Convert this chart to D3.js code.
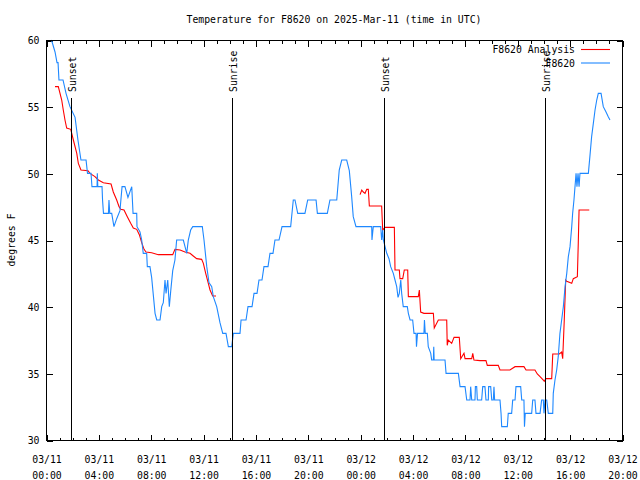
<!DOCTYPE html>
<html><head><meta charset="utf-8">
<script src="https://cdn.jsdelivr.net/npm/d3@7"></script>
<style>
body{margin:0;background:#fff;}
text{font-family:"DejaVu Sans Mono","Liberation Mono",monospace;font-size:9.8px;fill:#000;}
</style></head><body>
<svg id="chart" width="640" height="480"></svg>
<script>
const titleText = "Temperature for F8620 on 2025-Mar-11 (time in UTC)";
const yLabel = "degrees F";
const seriesNames = ["F8620 Analysis", "F8620"];
const seriesColors = ["#ff0000", "#1e88ff"];
const yTicks = [30, 35, 40, 45, 50, 55, 60];
const xStart = Date.UTC(2025, 2, 11, 0);
const xEnd = Date.UTC(2025, 2, 12, 20);
const sunLabels = ["Sunset", "Sunrise", "Sunset", "Sunrise"];
const sunHours = [1.91, 14.23, 25.84, 38.14];

// observations (hours since 03/11 00:00 UTC, deg F)
const obsHours = [0.42,0.69,0.84,0.92,0.99,1.30,1.53,1.83,2.22,2.44,2.67,3.06,3.17,3.44,3.51,3.90,3.92,3.96,4.28,4.32,4.39,4.77,4.81,4.87,5.02,5.19,5.40,5.65,5.81,6.03,6.26,6.55,6.65,6.93,6.95,7.18,7.31,7.43,7.69,7.74,7.94,8.07,8.33,8.46,8.71,8.84,8.96,9.09,9.17,9.30,9.42,9.53,9.68,9.85,9.98,10.49,10.62,10.75,10.87,11.05,11.21,11.94,12.07,12.28,12.45,12.66,12.78,13.04,13.29,13.50,13.75,13.93,14.19,14.31,14.82,14.90,15.28,15.43,15.74,15.89,16.12,16.27,16.50,16.65,16.96,17.11,17.34,17.49,17.80,18.03,18.69,18.89,19.02,19.23,19.78,19.99,20.63,20.73,21.49,21.69,22.21,22.40,22.59,22.97,23.17,23.35,23.47,23.68,24.88,24.90,25.00,25.57,25.64,25.72,25.77,25.90,26.03,26.20,26.33,26.53,26.66,26.79,26.89,26.99,27.10,27.17,27.29,27.60,27.68,27.81,28.01,28.11,28.27,28.30,28.38,28.87,28.91,28.97,29.13,29.20,29.39,29.46,29.59,29.62,29.65,30.48,30.56,31.50,31.63,32.01,32.14,32.39,32.44,32.52,32.77,32.80,32.90,32.95,33.28,33.36,33.53,33.61,33.79,33.81,33.97,34.05,34.17,34.22,34.27,34.68,34.76,34.81,35.24,35.31,35.57,35.65,35.83,35.90,36.26,36.34,36.51,36.55,36.61,37.10,37.18,37.35,37.43,37.74,37.86,37.99,38.04,38.12,38.25,38.37,38.71,38.75,38.88,39.01,39.13,39.26,39.39,39.52,39.65,39.78,39.90,40.03,40.16,40.23,40.33,40.49,40.56,40.64,40.72,40.79,41.43,41.56,41.68,41.81,41.94,42.07,42.19,42.40,42.57,42.78,42.95,43.08];
const obsTemps = [60,59.1,58.3,58.3,57,57,56,55,54.2,52.5,51,51,50,50,49,49,50,49,49,48,47,47,48,47,47,46,46.6,47.2,49,49,48.2,49,47,47,46,45.6,45,44,44,43,43,42.2,39.5,39,39,40,40.3,42,41,42,40,41.2,42.7,43.5,45,45,44.5,44,45,45.75,46,46,45,43,41.8,41.5,40.75,40,38.8,38,38,37,37,38,38,39,39,40,40,41,41,42,42,43,43,44,44,45,45,46,46,48,48,47,47,48,48,47,47,48,48,50.25,51,51,50.2,48.25,46.75,46,46,45,46,46,45,45.75,45,44.5,44,43.6,43,42.5,42,41.5,40.7,41,42,41,40,40,39.5,39,39,38,38,37,38,38,39,38,38,37,36.5,36,36,37,36,36,35,35,34,34,33,33,34,33,33,34,34,33,33,34,34,33,33,34,34,33,33,34,33,33,32,31,31,32,32,33,33,34,34,33,33,31,32,32,33,33,32,32,33,33,32,33,33,32,32,33.5,34.5,35.25,36.25,38,39,40,41.5,42.5,43.75,44.5,46,47,48,50,49,50,49,50,50,51.4,52.75,53.75,54.75,55.5,56,56,55,54.6,54.25,54];

// analysis (null = gap)
const anaHours = [0.69,0.94,1.20,1.32,1.45,1.58,1.89,2.09,2.35,2.47,2.67,3.21,3.36,3.74,4.00,4.38,4.97,5.14,5.40,5.58,5.71,5.96,6.21,6.47,6.67,6.93,7.13,7.31,7.49,7.64,8.07,8.58,9.68,9.85,10.24,10.62,11.00,11.25,11.51,11.89,12.02,12.20,12.40,12.53,12.73,12.99,18.0,23.99,24.12,24.24,24.37,24.50,24.62,24.70,25.64,25.72,25.90,26.61,26.66,26.99,27.04,27.25,27.37,27.63,27.68,28.44,28.52,28.62,28.87,29.59,29.66,29.97,30.61,30.65,30.73,30.99,31.17,31.57,31.68,31.93,32.01,32.52,32.60,32.69,33.15,33.61,33.71,34.55,34.68,35.44,35.83,36.51,36.67,37.35,37.53,37.74,37.99,38.06,38.19,38.63,38.71,39.21,39.39,39.47,39.59,39.70,39.78,40.16,40.28,40.59,40.66,40.72,41.50];
const anaTemps = [56.5,56.5,55.5,54.75,54,53.4,53.3,52.5,51.5,50.75,50.25,50.2,50,49.75,49.5,49.3,49.2,48.6,48,47.5,47.3,47.25,46.75,46.25,45.9,45.8,45.4,44.8,44.3,44.1,44.05,43.9,43.9,44.3,44.25,44.1,44,43.8,43.6,43.55,43.25,42.5,41.75,41.25,40.8,40.8,null,48.4,48.75,48.6,48.5,48.8,48.8,47.55,47.55,45.75,45.95,45.95,42.75,42.75,42.1,42.1,42.75,42.75,40.75,40.75,41.25,39.6,39.5,39.5,38.4,39,39,37.1,37.5,37.25,37.7,37.7,36.1,36.5,36.1,36.1,36.5,36,35.95,35.95,35.6,35.6,35.25,35.25,35.5,35.5,35.25,35.25,34.95,34.75,34.5,34.4,34.6,34.6,36.45,36.45,36.6,36.1,39,42,41.9,41.75,42.1,42.25,44.75,47.25,47.25];

const toDate = h => new Date(xStart + h * 3600e3);
const L = 46, R = 622, T = 40, B = 440;
const svg = d3.select("#chart");
const x = d3.scaleUtc().domain([new Date(xStart), new Date(xEnd)]).range([L, R]);
const y = d3.scaleLinear().domain([30, 60]).range([B, T]);

// title
svg.append("text").attr("x", (L + R) / 2).attr("y", 23).attr("text-anchor", "middle").text(titleText);
// y label
svg.append("text").attr("transform", "translate(15,240) rotate(-90)").attr("text-anchor", "middle").text(yLabel);

const crisp = g => g.attr("shape-rendering", "crispEdges");
const fmtD = d3.utcFormat("%m/%d"), fmtT = d3.utcFormat("%H:%M");

// minor x ticks bottom/top
svg.append("g").attr("transform", `translate(0.5,${B + 0.5})`)
  .call(d3.axisBottom(x).ticks(d3.utcHour.every(1)).tickSize(-3).tickFormat(""))
  .call(g => g.select(".domain").remove()).call(crisp);
svg.append("g").attr("transform", `translate(0.5,${T + 0.5})`)
  .call(d3.axisTop(x).ticks(d3.utcHour.every(1)).tickSize(-3).tickFormat(""))
  .call(g => g.select(".domain").remove()).call(crisp);
// major x ticks bottom with labels
const xb = svg.append("g").attr("transform", `translate(0.5,${B + 0.5})`)
  .call(d3.axisBottom(x).ticks(d3.utcHour.every(4)).tickSize(-6))
  .call(g => g.select(".domain").remove()).call(crisp);
xb.selectAll(".tick text").each(function(d) {
  const t = d3.select(this);
  t.text(null).attr("dy", null).attr("y", null).attr("font-family", null).attr("font-size", null);
  t.append("tspan").attr("x", 0).attr("y", 22).text(fmtD(d));
  t.append("tspan").attr("x", 0).attr("y", 38).text(fmtT(d));
});
svg.append("g").attr("transform", `translate(0.5,${T + 0.5})`)
  .call(d3.axisTop(x).ticks(d3.utcHour.every(4)).tickSize(-6).tickFormat(""))
  .call(g => g.select(".domain").remove()).call(crisp);
// y axes
const yl = svg.append("g").attr("transform", `translate(${L + 0.5},0.5)`)
  .call(d3.axisLeft(y).tickValues(yTicks).tickSize(-6).tickPadding(7).tickFormat(d3.format("d")))
  .call(g => g.select(".domain").remove()).call(crisp);
yl.selectAll(".tick text").attr("font-family", null).attr("font-size", null).attr("dy", "0.35em");
svg.append("g").attr("transform", `translate(${R + 0.5},0.5)`)
  .call(d3.axisRight(y).tickValues(yTicks).tickSize(-6).tickFormat(""))
  .call(g => g.select(".domain").remove()).call(crisp);
svg.selectAll(".tick line").attr("stroke", "#000");

// series
const line = d3.line().defined(d => d[1] != null).x(d => x(toDate(d[0]))).y(d => y(d[1]));
const ana = anaHours.map((h, i) => [h, anaTemps[i]]);
const obs = obsHours.map((h, i) => [h, obsTemps[i]]);
svg.append("path").datum(ana).attr("d", line).attr("fill", "none").attr("stroke", seriesColors[0]).attr("stroke-width", 1.1);
svg.append("path").datum(obs).attr("d", line).attr("fill", "none").attr("stroke", seriesColors[1]).attr("stroke-width", 1.1);

// sunrise/sunset
sunHours.forEach((h, i) => {
  const sx = Math.round(x(toDate(h))) + 0.5;
  svg.append("line").attr("x1", sx).attr("x2", sx).attr("y1", 98).attr("y2", B)
    .attr("stroke", "#000").attr("shape-rendering", "crispEdges");
  svg.append("text").attr("transform", `translate(${sx + 4.5},92) rotate(-90)`).text(sunLabels[i]);
});

// border
svg.append("rect").attr("x", L + 0.5).attr("y", T + 0.5).attr("width", R - L).attr("height", B - T)
  .attr("fill", "none").attr("stroke", "#000").attr("shape-rendering", "crispEdges");

// legend
seriesNames.forEach((n, i) => {
  const ly = 53 + i * 13.5;
  svg.append("text").attr("x", 575).attr("y", ly).attr("text-anchor", "end").text(n);
  svg.append("line").attr("x1", 581).attr("x2", 610).attr("y1", ly - 3.5).attr("y2", ly - 3.5)
    .attr("stroke", seriesColors[i]).attr("stroke-width", 1.1);
});
</script></body></html>
